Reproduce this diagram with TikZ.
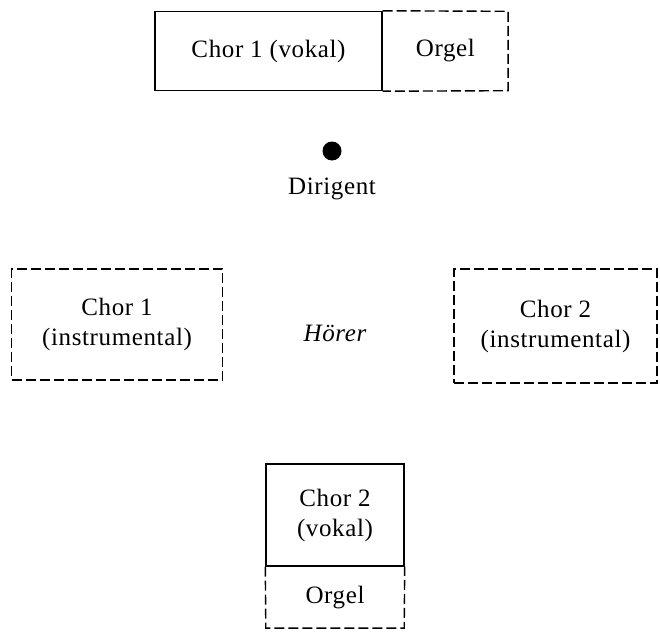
\documentclass[tikz,border=0pt]{standalone}
\usepackage{fontspec}
\setmainfont{Liberation Serif}[LetterSpace=2.5]
\begin{document}
\begin{tikzpicture}[x=1pt,y=-1pt,
  txt/.style={font=\fontsize{25}{30}\selectfont, align=center, inner sep=0pt},
  solidbox/.style={txt, draw, line width=1.4pt},
  openbox/.style={txt},
  dashline/.style={line width=1.4pt, dash pattern=on 10pt off 4pt},
  dashbox/.style={txt, draw, line width=1.4pt, dash pattern=on 10pt off 4pt}]
\useasboundingbox (0,0) rectangle (660,637);

% upper choir with organ
\node[solidbox, minimum width=227pt, minimum height=79pt] (v1) at (268.5,51) {Chor 1 (vokal)};
\node[openbox, minimum width=125pt, minimum height=79pt, anchor=west] (o1) at (v1.east) {Orgel};
\draw[dashline] (v1.north east) -- (o1.north east) -- (o1.south east) -- (v1.south east);

% conductor
\fill (332,151) circle (9.5pt) coordinate (dot);
\node[txt] (dir) at (332,189) {Dirigent};

% instrumental choirs and listener
\node[dashbox, minimum width=211pt, minimum height=111pt] (i1) at (117,324.5) {Chor 1\\(instrumental)};
\node[dashbox, minimum width=203pt, minimum height=114pt] (i2) at (555.5,326) {Chor 2\\(instrumental)};
\node[txt, font=\fontsize{25}{30}\selectfont\itshape] (h) at (335,333) {Hörer};

% lower choir with organ
\node[solidbox, minimum width=138pt, minimum height=102pt] (v2) at (335,515) {Chor 2\\(vokal)};
\node[openbox, minimum width=138pt, minimum height=61pt, anchor=north] (o2) at (v2.south) {Orgel};
\draw[dashline] (v2.south west) -- (o2.south west) -- (o2.south east) -- (v2.south east);
\end{tikzpicture}
\end{document}
